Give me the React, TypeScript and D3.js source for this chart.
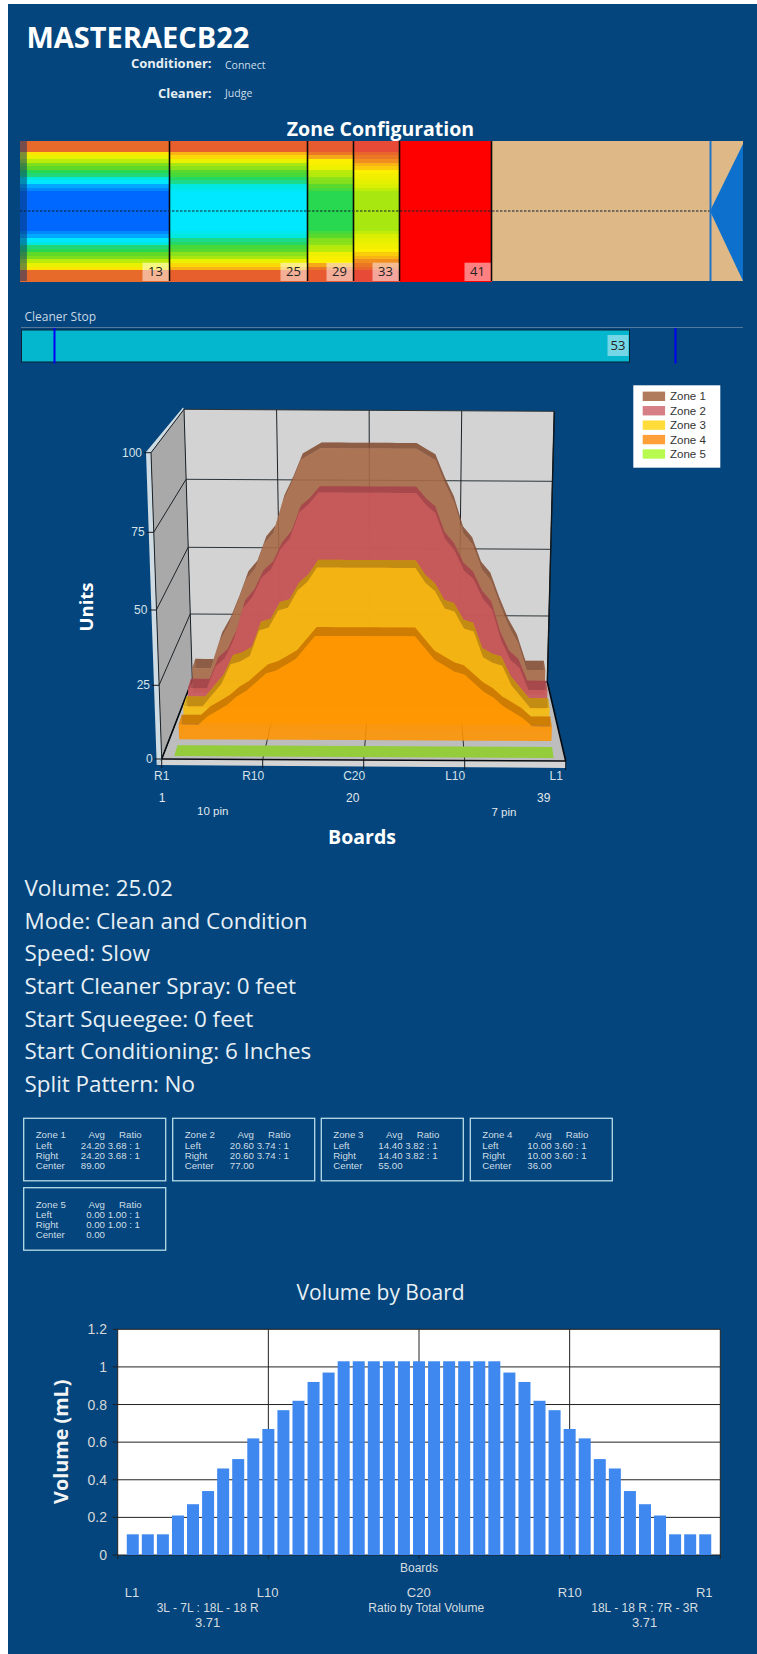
import { useEffect, useRef } from "react";
import * as d3 from "d3";

const PAGE_W = 757;
const PAGE_H = 1654;
const BG = "#03457c";
const SANS = "'Open Sans', sans-serif";
const ARIAL = "'Liberation Sans', sans-serif";

const zoneNames = ["Zone 1", "Zone 2", "Zone 3", "Zone 4", "Zone 5"];
const zoneColors = ["#a86a48", "#c9565a", "#f6bc0c", "#ff9400", "#a8ee44"];
const zoneTopColors = ["#7d4a30", "#a04048", "#b88a08", "#c07000", "#a8ee44"];
const legendColors = ["#b07a5c", "#d67f87", "#ffdc3a", "#ff9f3a", "#b8fb50"];

// units per board, R1..L1
const zone1Units = [9, 9, 9, 19, 25, 33, 42, 46, 55, 59, 70, 77, 85, 87, 89, 89, 89, 89, 89, 89, 89, 89, 89, 89, 89, 87, 85, 77, 70, 59, 55, 46, 42, 33, 25, 19, 9, 9, 9];
const zone2Units = [7, 7, 7, 15, 18, 25, 36, 40, 47, 50, 57, 61, 70, 73, 77, 77, 77, 77, 77, 77, 77, 77, 77, 77, 77, 73, 70, 61, 57, 50, 47, 40, 36, 25, 18, 15, 7, 7, 7];
const zone3Units = [6, 6, 6, 10, 14, 21, 22, 24, 33, 34, 40, 41, 47, 50, 55, 55, 55, 55, 55, 55, 55, 55, 55, 55, 55, 50, 47, 41, 40, 34, 33, 24, 22, 21, 14, 10, 6, 6, 6];
const zone4Units = [5, 5, 5, 8, 10, 12, 15, 17, 20, 23, 24, 26, 28, 32, 36, 36, 36, 36, 36, 36, 36, 36, 36, 36, 36, 32, 28, 26, 24, 23, 20, 17, 15, 12, 10, 8, 5, 5, 5];
const zone5Units = [0, 0, 0, 0, 0, 0, 0, 0, 0, 0, 0, 0, 0, 0, 0, 0, 0, 0, 0, 0, 0, 0, 0, 0, 0, 0, 0, 0, 0, 0, 0, 0, 0, 0, 0, 0, 0, 0, 0];
const zoneUnits = [zone1Units, zone2Units, zone3Units, zone4Units, zone5Units];

// lane zones, feet
const zoneEndFeet = [13, 25, 29, 33, 41];
const cleanerStopFeet = 53;
const cleanerMarkFeet = [3, 57];
const startCondFeet = 0.6;
const foulLineFeet = 60;
const laneEndFeet = 63;

const unitTicks = [0, 25, 50, 75, 100];
const boardTicks = ["R1", "R10", "C20", "L10", "L1"];

const infoLines = [
  "Volume: 25.02",
  "Mode: Clean and Condition",
  "Speed: Slow",
  "Start Cleaner Spray: 0 feet",
  "Start Squeegee: 0 feet",
  "Start Conditioning: 6 Inches",
  "Split Pattern: No",
];

const statAvg = ["24.20", "20.60", "14.40", "10.00", "0.00"];
const statRatio = ["3.68 : 1", "3.74 : 1", "3.82 : 1", "3.60 : 1", "1.00 : 1"];
const statCenter = ["89.00", "77.00", "55.00", "36.00", "0.00"];

const boardVolume = [0.11, 0.11, 0.11, 0.21, 0.27, 0.34, 0.46, 0.51, 0.62, 0.67, 0.77, 0.82, 0.92, 0.97, 1.03, 1.03, 1.03, 1.03, 1.03, 1.03, 1.03, 1.03, 1.03, 1.03, 1.03, 0.97, 0.92, 0.82, 0.77, 0.67, 0.62, 0.51, 0.46, 0.34, 0.27, 0.21, 0.11, 0.11, 0.11];
const volumeTicks = [0, 0.2, 0.4, 0.6, 0.8, 1, 1.2];
const volumeBoardTicks = ["L1", "L10", "C20", "R10", "R1"];

const heatStops = [0, 5, 6, 9, 14, 20, 27, 36, 46, 55, 60, 70, 77, 85, 89];
const heatColors = ["#ff0000", "#e84a38", "#e85a30", "#e86a2a", "#f5a818", "#fff000", "#e0f000", "#a8e810", "#60d828", "#28d850", "#20d880", "#00e8e0", "#00e8ff", "#00a8ff", "#0068ff"];

type Sel = d3.Selection<SVGGElement, unknown, null, undefined>;

function label(
  g: Sel,
  x: number,
  y: number,
  str: string,
  size: number,
  opts: { anchor?: string; weight?: string; fill?: string; font?: string; rotate?: boolean } = {},
) {
  const t = g
    .append("text")
    .attr("x", x)
    .attr("y", y)
    .attr("font-size", size)
    .attr("font-family", opts.font ?? ARIAL)
    .attr("font-weight", opts.weight ?? "normal")
    .attr("text-anchor", opts.anchor ?? "start")
    .attr("fill", opts.fill ?? "#dfe8ee")
    .text(str);
  if (opts.rotate) t.attr("transform", `rotate(-90 ${x} ${y})`);
  return t;
}

function drawHeader(g: Sel) {
  label(g, 26.5, 48, "MASTERAECB22", 29, { weight: "bold", font: SANS, fill: "#fff" });
  label(g, 211.5, 68, "Conditioner:", 13, { weight: "bold", font: SANS, anchor: "end", fill: "#e6eef3" });
  label(g, 225, 69, "Connect", 10.5, { font: SANS, fill: "#cfdde8" });
  label(g, 211.5, 98, "Cleaner:", 13, { weight: "bold", font: SANS, anchor: "end", fill: "#e6eef3" });
  label(g, 225, 97, "Judge", 10.5, { font: SANS, fill: "#cfdde8" });
  label(g, 380.5, 135.5, "Zone Configuration", 19.5, { weight: "bold", font: SANS, anchor: "middle", fill: "#fff" });
}

function drawLane(g: Sel) {
  const feet = d3.scaleLinear().domain([0, laneEndFeet]).range([20, 744.5]);
  const rowY = d3.scaleBand<number>().domain(d3.range(39)).range([141, 281]);
  const heat = d3.scaleLinear<string>().domain(heatStops).range(heatColors);
  const top = 141;
  const bottom = 281;
  const mid = (top + bottom) / 2;
  const right = feet(laneEndFeet) - 1.5;

  // tan lane behind everything
  g.append("rect")
    .attr("x", feet(0))
    .attr("y", top)
    .attr("width", right - feet(0))
    .attr("height", bottom - top)
    .attr("fill", "#deb887");

  // oil bands per zone
  zoneEndFeet.forEach((end, z) => {
    const start = z === 0 ? 0 : zoneEndFeet[z - 1];
    g.append("g")
      .selectAll("rect")
      .data(zoneUnits[z])
      .join("rect")
      .attr("x", feet(start))
      .attr("y", (_, i) => rowY(i) ?? 0)
      .attr("width", feet(end) - feet(start))
      .attr("height", rowY.bandwidth() + 0.5)
      .attr("fill", (d) => heat(d))
      .attr("shape-rendering", "crispEdges");
  });

  // start of conditioning shadow
  g.append("rect")
    .attr("x", feet(0))
    .attr("y", top)
    .attr("width", feet(startCondFeet) - feet(0))
    .attr("height", bottom - top)
    .attr("fill", "#03306a")
    .attr("opacity", 0.5);

  zoneEndFeet.forEach((end) => {
    g.append("line")
      .attr("x1", feet(end))
      .attr("x2", feet(end))
      .attr("y1", top)
      .attr("y2", bottom)
      .attr("stroke", "#0a0a0a")
      .attr("stroke-width", 1.6);
    g.append("rect")
      .attr("x", feet(end) - 27)
      .attr("y", 262.7)
      .attr("width", 26.2)
      .attr("height", bottom - 262.7)
      .attr("fill", "#fff")
      .attr("opacity", 0.5);
    label(g, feet(end) - 14, 276, String(end), 13, { anchor: "middle", font: SANS, fill: "#222" });
  });

  g.append("line")
    .attr("x1", feet(0))
    .attr("x2", feet(foulLineFeet))
    .attr("y1", mid)
    .attr("y2", mid)
    .attr("stroke", "#10202c")
    .attr("stroke-dasharray", "2.5 1.5");

  // foul line + pin deck arrow
  g.append("path")
    .attr("d", d3.line()([[feet(foulLineFeet), mid], [right, top + 3], [right, bottom]]) + "Z")
    .attr("fill", "#0c70cc");
  g.append("rect")
    .attr("x", feet(foulLineFeet) - 0.5)
    .attr("y", top)
    .attr("width", 2)
    .attr("height", bottom - top)
    .attr("fill", "#1e74c8");

  // cleaner stop
  label(g, 24.5, 321, "Cleaner Stop", 12, { font: SANS, fill: "#c8d8e4" });
  g.append("line").attr("x1", 21).attr("x2", right).attr("y1", 327.5).attr("y2", 327.5).attr("stroke", "#55789c");
  g.append("rect")
    .attr("x", 21.5)
    .attr("y", 330)
    .attr("width", feet(cleanerStopFeet) - 21.5)
    .attr("height", 32)
    .attr("fill", "#05b6cf")
    .attr("stroke", "#0b2233");
  cleanerMarkFeet.forEach((f) => {
    g.append("line")
      .attr("x1", feet(f))
      .attr("x2", feet(f))
      .attr("y1", 328)
      .attr("y2", 363.5)
      .attr("stroke", "#0000f0")
      .attr("stroke-width", 2);
  });
  g.append("rect")
    .attr("x", feet(cleanerStopFeet) - 22)
    .attr("y", 335)
    .attr("width", 21)
    .attr("height", 21)
    .attr("fill", "#fff")
    .attr("opacity", 0.45);
  label(g, feet(cleanerStopFeet) - 11.5, 350, String(cleanerStopFeet), 13, { anchor: "middle", font: SANS, fill: "#222" });
}

function drawChart3D(g: Sel) {
  // front and back planes were read separately because of the perspective
  const frontY = d3.scaleLinear().domain(unitTicks).range([759, 685.3, 610, 532.3, 452.7]);
  const backY = d3.scaleLinear().domain(unitTicks).range([680, 614, 547.3, 479.3, 409.3]);
  const frontL = d3.scaleLinear().domain([0, 100]).range([161.7, 151]);
  const frontR = d3.scaleLinear().domain([0, 100]).range([565.7, 576]);
  const backL = d3.scaleLinear().domain([0, 100]).range([192.3, 184]);
  const backR = d3.scaleLinear().domain([0, 100]).range([547.3, 554.3]);
  const depth = d3.scaleLinear().domain([0, 1, 2, 3, 4, 5]).range([0, 0.215, 0.42, 0.62, 0.81, 1]);

  const project = (t: number, v: number, f: number): [number, number] => {
    const l = d3.interpolateNumber(frontL(v), backL(v))(f);
    const r = d3.interpolateNumber(frontR(v), backR(v))(f);
    return [l + (r - l) * t, d3.interpolateNumber(frontY(v), backY(v))(f) + 2 * t];
  };
  const poly = (pts: [number, number][]) => d3.line()(pts) + "Z";
  const seg = (a: [number, number], b: [number, number], color: string, w = 1) =>
    g
      .append("line")
      .attr("x1", a[0])
      .attr("y1", a[1])
      .attr("x2", b[0])
      .attr("y2", b[1])
      .attr("stroke", color)
      .attr("stroke-width", w);

  // light frame round the walls
  g.append("path")
    .attr("d", poly([[146, 452], [183, 407.5], project(0, 100, 1), project(0, 100, 0), project(0, 0, 0), [156.7, 765]]))
    .attr("fill", "#cfdbe2");
  g.append("path")
    .attr("d", poly([[156.7, 765], project(0, 0, 0), project(1, 0, 0), [566, 768]]))
    .attr("fill", "#d4d4d4");

  // walls and floor
  g.append("path").attr("d", poly([project(0, 0, 1), project(1, 0, 1), project(1, 100, 1), project(0, 100, 1)])).attr("fill", "#d3d3d3");
  g.append("path").attr("d", poly([project(0, 0, 0), project(0, 0, 1), project(0, 100, 1), project(0, 100, 0)])).attr("fill", "#a9a9a9");
  g.append("path").attr("d", poly([project(0, 0, 0), project(1, 0, 0), project(1, 0, 1), project(0, 0, 1)])).attr("fill", "#bdbdbd");

  // grid
  unitTicks.forEach((v) => {
    seg(project(0, v, 1), project(1, v, 1), "#2b3338");
    seg(project(0, v, 0), project(0, v, 1), "#1c2226");
    seg([project(0, v, 0)[0] - 7, project(0, v, 0)[1]], project(0, v, 0), "#101820");
    label(g, project(0, v, 0)[0] - 9, project(0, v, 0)[1] + 4, String(v), 12, { anchor: "end", fill: "#d5e2ea" });
  });
  boardTicks.forEach((name, i) => {
    const t = i / (boardTicks.length - 1);
    seg(project(t, 0, 1), project(t, 100, 1), "#1c2226");
    seg(project(t, 0, 0), project(t, 0, 1), i === 0 || i === 4 ? "#050a10" : "#2b3338", i === 0 || i === 4 ? 1.6 : 1);
    const [fx, fy] = project(t, 0, 0);
    seg([fx, fy], [fx, fy + 9], "#101820");
    label(g, fx - 9.5 * (i === 0 ? 0 : 1), 780, name, 12, { anchor: "middle", fill: "#d5e2ea" });
  });
  seg(project(0, 0, 0), project(1, 0, 0), "#050a10", 1.6);
  seg(project(0, 0, 0), project(0, 100, 0), "#1c2226", 1);
  seg(project(1, 0, 1), project(1, 100, 1), "#10181e", 1.4);

  label(g, 162, 802, "1", 12, { anchor: "middle", fill: "#e0e8ee" });
  label(g, 352.7, 802, "20", 12, { anchor: "middle", fill: "#e0e8ee" });
  label(g, 543.7, 802, "39", 12, { anchor: "middle", fill: "#e0e8ee" });
  label(g, 212.7, 815, "10 pin", 11.5, { anchor: "middle", fill: "#e0e8ee" });
  label(g, 504, 816, "7 pin", 11.5, { anchor: "middle", fill: "#e0e8ee" });
  label(g, 362, 844, "Boards", 19.5, { anchor: "middle", weight: "bold", font: SANS, fill: "#fff" });
  label(g, 93, 607, "Units", 18.5, { anchor: "middle", weight: "bold", font: SANS, fill: "#fff", rotate: true });

  // zones back to front, Zone 1 sits against the back wall
  // series are inset more at the front of the box than at the back
  const inset = d3.scaleLinear().domain([0, 1]).range([0.029, 0.013]);
  const boardT = (i: number, f: number) => inset(f) + ((1 - 2 * inset(f)) * i) / 38;
  d3.range(5).forEach((z) => {
    const units = zoneUnits[z];
    const slot = 4 - z;
    const f0 = depth(slot + 0.18);
    const f1 = depth(slot + 0.82);
    const color = zoneColors[z];
    const face = (f: number) =>
      poly([
        project(boardT(0, f), 0, f),
        ...units.map((v, i) => project(boardT(i, f), v, f)),
        project(boardT(38, f), 0, f),
      ]);
    const floorPts: [number, number][] = [
      project(boardT(0, f0), 0, f0),
      project(boardT(38, f0), 0, f0),
      project(boardT(38, f1), 0, f1),
      project(boardT(0, f1), 0, f1),
    ];
    if (d3.max(units) === 0) {
      g.append("path").attr("d", poly(floorPts)).attr("fill", "#94cc3c");
      return;
    }
    g.append("path").attr("d", face(f1)).attr("fill", color).attr("opacity", 0.55);
    // floor of the slab
    g.append("path").attr("d", poly(floorPts)).attr("fill", color).attr("opacity", 0.4);
    // top surface
    const topPts = [
      ...units.map((v, i) => project(boardT(i, f0), v, f0)),
      ...units.map((v, i) => project(boardT(i, f1), v, f1)).reverse(),
    ];
    g.append("path").attr("d", poly(topPts)).attr("fill", zoneTopColors[z]).attr("opacity", 0.75);
    // end caps
    [0, 38].forEach((i) => {
      g.append("path")
        .attr("d", poly([project(boardT(i, f0), 0, f0), project(boardT(i, f0), units[i], f0), project(boardT(i, f1), units[i], f1), project(boardT(i, f1), 0, f1)]))
        .attr("fill", color)
        .attr("opacity", 0.6);
    });
    g.append("path").attr("d", face(f0)).attr("fill", color).attr("opacity", 0.8);
  });

  // legend
  g.append("rect").attr("x", 633.3).attr("y", 385.3).attr("width", 87).attr("height", 82.4).attr("fill", "#fff");
  const legendY = d3.scalePoint<string>().domain(zoneNames).range([396.3, 454]);
  zoneNames.forEach((name, i) => {
    const y = legendY(name) ?? 0;
    g.append("rect").attr("x", 642.7).attr("y", y - 4.7).attr("width", 22.4).attr("height", 9.4).attr("fill", legendColors[i]);
    label(g, 670, y + 4, name, 11.5, { fill: "#333" });
  });
}

function drawInfo(g: Sel) {
  const y = d3.scalePoint<string>().domain(infoLines).range([896, 1092]);
  infoLines.forEach((line) => {
    label(g, 24.5, y(line) ?? 0, line, 22.4, { font: SANS, fill: "#e8f0f5" });
  });
}

function drawStats(g: Sel) {
  const boxX = [23.7, 172.7, 321.3, 470.3, 23.7];
  zoneNames.forEach((name, i) => {
    const x0 = boxX[i];
    const y0 = i < 4 ? 1118.3 : 1187.7;
    g.append("rect")
      .attr("x", x0)
      .attr("y", y0)
      .attr("width", 142)
      .attr("height", 62.5)
      .attr("fill", "none")
      .attr("stroke", "#b8dce8")
      .attr("stroke-width", 1.3);
    const rows = [
      [name, "Avg", "Ratio"],
      ["Left", statAvg[i], statRatio[i]],
      ["Right", statAvg[i], statRatio[i]],
      ["Center", statCenter[i], ""],
    ];
    rows.forEach((r, k) => {
      const y = y0 + 20 + k * 10.25;
      label(g, x0 + 12, y, r[0], 9.7, { fill: "#cfdde6" });
      label(g, x0 + 81.3, y, r[1], 9.7, { anchor: "end", fill: "#cfdde6" });
      label(g, x0 + (k === 0 ? 118 : 116.3), y, r[2], 9.7, { anchor: "end", fill: "#cfdde6" });
    });
  });
}

function drawVolume(g: Sel) {
  const x = d3.scaleLinear().domain([0, 40]).range([117.7, 720.3]);
  const y = d3.scaleLinear().domain([0, 1.2]).range([1555, 1329.3]);
  const barW = 12;

  label(g, 380.6, 1300, "Volume by Board", 21, { anchor: "middle", font: SANS, fill: "#e8f0f5" });
  g.append("rect")
    .attr("x", x(0))
    .attr("y", y(1.2))
    .attr("width", x(40) - x(0))
    .attr("height", y(0) - y(1.2))
    .attr("fill", "#fff");

  volumeTicks.forEach((t) => {
    g.append("line").attr("x1", x(0) - 5).attr("x2", x(40)).attr("y1", y(t)).attr("y2", y(t)).attr("stroke", "#222");
    label(g, 107, y(t) + 5, String(t), 14, { anchor: "end", fill: "#d6d8d8" });
  });
  const tickAt = [0, 10, 20, 30, 40];
  tickAt.forEach((t) => {
    g.append("line").attr("x1", x(t)).attr("x2", x(t)).attr("y1", y(1.2)).attr("y2", y(0) + 4).attr("stroke", "#222");
  });

  g.append("g")
    .selectAll("rect")
    .data(boardVolume)
    .join("rect")
    .attr("x", (_, i) => x(i + 1) - barW / 2)
    .attr("y", (d) => y(d))
    .attr("width", barW)
    .attr("height", (d) => y(0) - y(d))
    .attr("fill", "#3f88f0");

  label(g, 68, 1441.7, "Volume (mL)", 19.8, { anchor: "middle", weight: "bold", font: SANS, fill: "#f4f4f4", rotate: true });
  label(g, x(20), 1572, "Boards", 12, { anchor: "middle", fill: "#d6dde0" });
  const tickLabelX = [132, 267.7, 418.7, 569.7, 704.3];
  volumeBoardTicks.forEach((name, i) => {
    label(g, tickLabelX[i], 1596.7, name, 13, { anchor: "middle", fill: "#d6dde0" });
  });
  label(g, 207.7, 1611.7, "3L - 7L : 18L - 18 R", 12, { anchor: "middle", fill: "#d6dde0" });
  label(g, 207.7, 1627, "3.71", 13, { anchor: "middle", fill: "#d6dde0" });
  label(g, 426.3, 1611.7, "Ratio by Total Volume", 12, { anchor: "middle", fill: "#d6dde0" });
  label(g, 644.7, 1611.7, "18L - 18 R : 7R - 3R", 12, { anchor: "middle", fill: "#d6dde0" });
  label(g, 644.7, 1627, "3.71", 13, { anchor: "middle", fill: "#d6dde0" });
}

export default function App() {
  const svgRef = useRef<SVGSVGElement>(null);

  useEffect(() => {
    if (!svgRef.current) return;
    const svg = d3.select(svgRef.current);
    svg.selectAll("*").remove();
    const g = svg.append("g") as unknown as Sel;

    g.append("rect").attr("x", 8).attr("y", 4).attr("width", PAGE_W - 8).attr("height", PAGE_H - 4).attr("fill", BG);
    drawHeader(g);
    drawLane(g);
    drawChart3D(g);
    drawInfo(g);
    drawStats(g);
    drawVolume(g);
  }, []);

  return (
    <svg
      ref={svgRef}
      width={PAGE_W}
      height={PAGE_H}
      viewBox={`0 0 ${PAGE_W} ${PAGE_H}`}
      style={{ position: "absolute", left: 0, top: 0, display: "block" }}
    />
  );
}
